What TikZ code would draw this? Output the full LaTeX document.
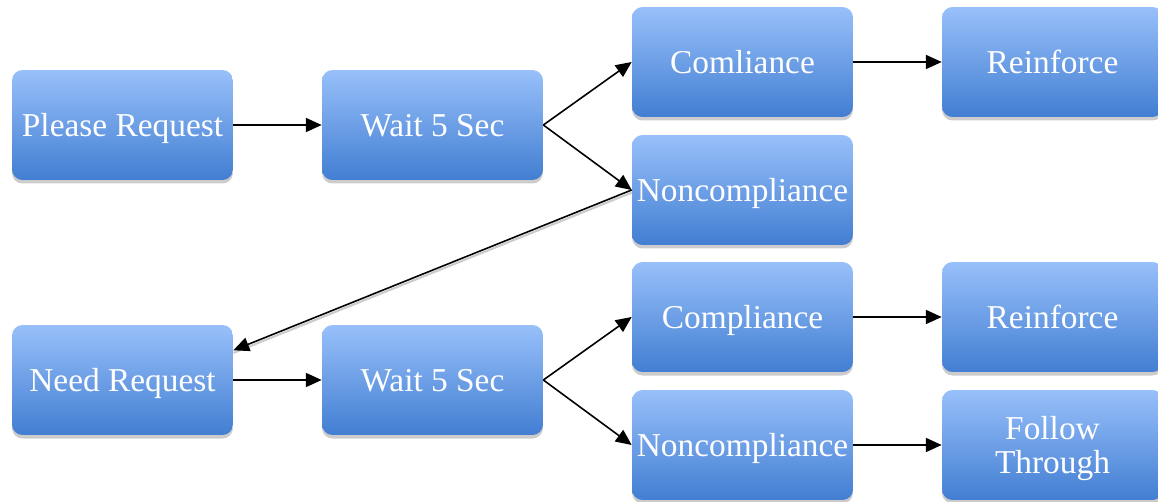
\documentclass[tikz,border=0pt]{standalone}
\usepackage{fontspec}
\setmainfont{Liberation Serif}
\usetikzlibrary{arrows.meta,shadows}
\definecolor{boxtop}{RGB}{152,192,250}
\definecolor{boxbottom}{RGB}{66,126,210}
\tikzset{
  stepbox/.style={
    rectangle, rounded corners=6pt, minimum width=4.42cm, minimum height=2.2cm,
    top color=boxtop, bottom color=boxbottom, draw=none, text=white,
    font=\fontsize{19}{22}\selectfont, align=center, inner sep=1pt,
    text height=15pt, text depth=2pt,
    drop shadow={shadow xshift=0pt, shadow yshift=-2pt, opacity=0.2, fill=black}
  },
  flow/.style={-{Triangle[length=9pt,width=8pt]}, line width=0.9pt, black}
}
\begin{document}
\begin{tikzpicture}[x=0.02cm,y=-0.02cm]
  \useasboundingbox (0,0) rectangle (1158,502);
  % first request
  \node[stepbox] (please) at (122.5,125) {Please Request};
  \node[stepbox] (wait1) at (432.5,125) {Wait 5 Sec};
  \node[stepbox] (comply1) at (742.5,62) {Comliance};
  \node[stepbox] (reinf1) at (1052.5,62) {Reinforce};
  \node[stepbox] (noncomply1) at (742.5,190) {Noncompliance};
  % second request
  \node[stepbox] (need) at (122.5,380) {Need Request};
  \node[stepbox] (wait2) at (432.5,380) {Wait 5 Sec};
  \node[stepbox] (comply2) at (742.5,317) {Compliance};
  \node[stepbox] (reinf2) at (1052.5,317) {Reinforce};
  \node[stepbox] (noncomply2) at (742.5,445) {Noncompliance};
  \node[stepbox, text height=, text depth=0pt] (follow) at (1052.5,445) {Follow\\[-3pt]Through};

  \draw[flow] (please) -- (wait1);
  \draw[flow] (wait1.east) -- (comply1.west);
  \draw[flow] (wait1.east) -- (noncomply1.west);
  \draw[flow] (comply1) -- (reinf1);
  \draw[gray!40, line width=1.2pt] ([yshift=-1.5pt]noncomply1.west) -- ([yshift=-1.5pt]need.15);
  \draw[flow] (noncomply1.west) -- (need.15);
  \draw[flow] (need) -- (wait2);
  \draw[flow] (wait2.east) -- (comply2.west);
  \draw[flow] (wait2.east) -- (noncomply2.west);
  \draw[flow] (comply2) -- (reinf2);
  \draw[flow] (noncomply2) -- (follow);
\end{tikzpicture}
\end{document}
